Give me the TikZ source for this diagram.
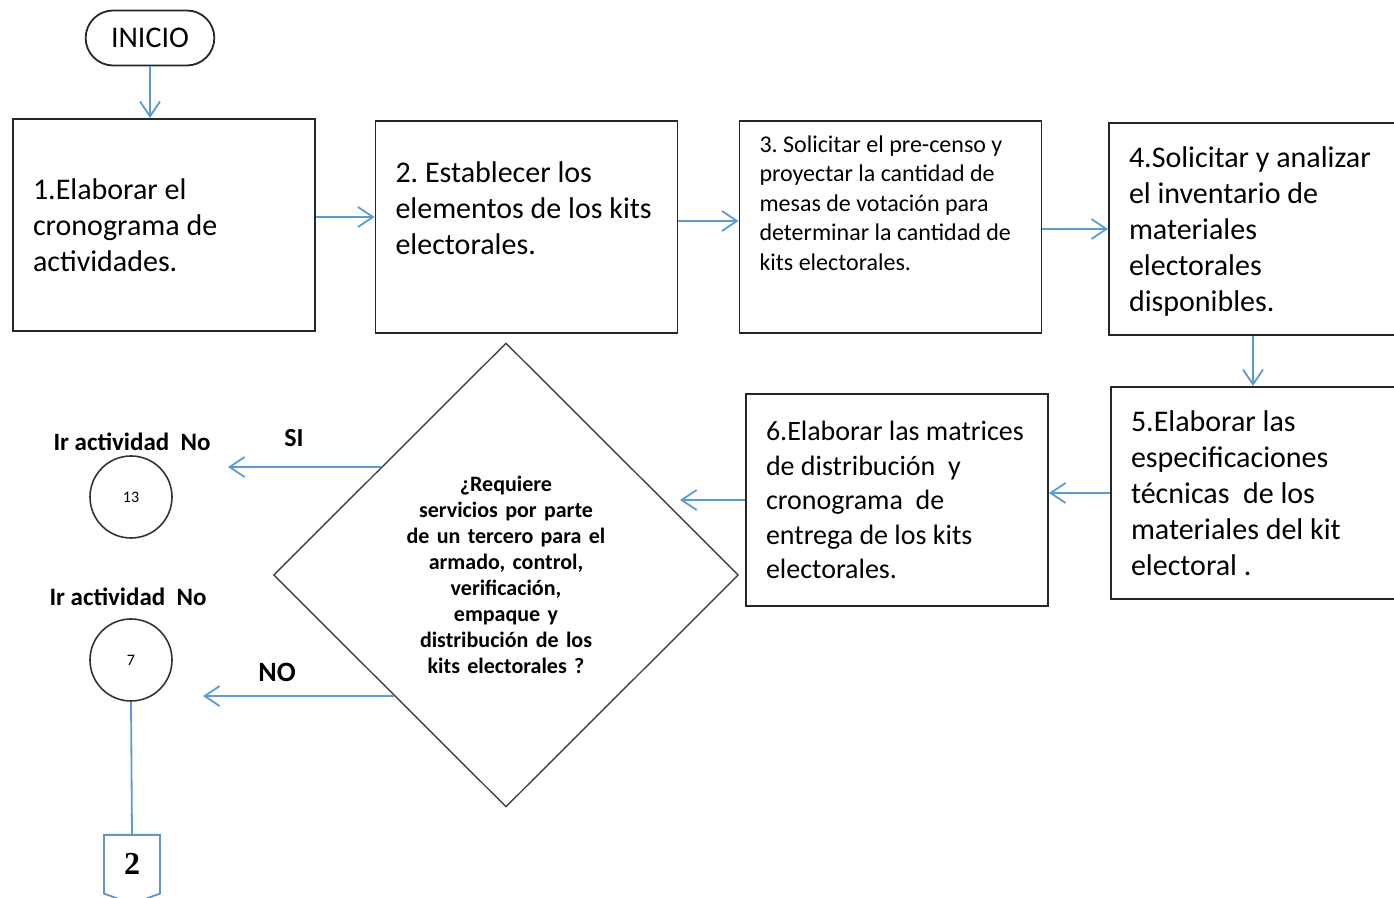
\documentclass[tikz,border=0pt]{standalone}
\usepackage{fontspec}
\setmainfont{Carlito}
\newfontfamily\numfont{Liberation Serif}
\usetikzlibrary{shapes.geometric,shapes.misc,shapes.symbols,arrows.meta,calc}
\definecolor{lineblue}{RGB}{91,155,213}
\frenchspacing

\begin{document}
\begin{tikzpicture}
        [x=0.5pt,y=-0.5pt,
        box/.style={draw=black!85,line width=0.9pt,minimum width=151pt,minimum height=106pt,
          inner xsep=10pt,text width=131pt,align=flush left,font=\fontsize{15}{18}\selectfont},
        arr/.style={lineblue,line width=0.9pt,-{Straight Barb[length=7.5pt,width=10pt,line width=0.9pt]}},
        goto/.style={circle,draw=black!80,line width=0.8pt,minimum size=41pt,inner sep=0pt,font=\fontsize{8}{9}\selectfont},
        tag/.style={font=\bfseries\fontsize{12.5}{14}\selectfont}]
        \useasboundingbox (0,0) rectangle (1394,898);
        \clip (0,0) rectangle (1394,898);

        \node[rounded rectangle,draw=black!85,line width=0.9pt,minimum width=71pt,minimum height=27.5pt,
          font=\fontsize{15}{18}\selectfont] (ini) at (150,38) {INICIO};
        \node[box] (b1) at (164,225) {1.Elaborar el\\cronograma de\\actividades.};
        \node[box,text depth=55pt] (b2) at (526.5,227) {2. Establecer los\\elementos de los kits\\electorales.};
        \node[box,text depth=83pt,font=\fontsize{12}{14.75}\selectfont] (b3) at (890.5,227)
          {3. Solicitar el pre-censo y\\proyectar la cantidad de\\mesas de votación para\\determinar la cantidad de\\kits electorales.};
        \node[box,text depth=72pt] (b4) at (1260,229) {4.Solicitar y analizar\\el inventario de\\materiales\\electorales\\disponibles.};
        \node[box] (b5) at (1262,493) {5.Elaborar las\\especificaciones\\técnicas~ de los\\materiales del kit\\electoral .};
        \node[box,font=\fontsize{14}{17.25}\selectfont] (b6) at (897,500)
          {6.Elaborar las matrices\\de distribución~ y\\cronograma~ de\\entrega de los kits\\electorales.};

        \node[diamond,draw=black!75,line width=0.7pt,minimum width=232.5pt,minimum height=232pt,inner sep=0pt,
          text width=100pt,align=center,font=\bfseries\fontsize{11}{13}\selectfont] (dia) at (506,575)
          {¿Requiere\\servicios por parte\\de un tercero para el\\armado, control,\\verificación,\\empaque y\\distribución de los\\kits electorales ?};

        \node[goto] (c13) at (131,497) {13};
        \node[goto] (c7) at (131,660) {7};
        \node[tag] (t13) at (132,442) {Ir actividad~~No};
        \node[tag] (t7) at (128,597) {Ir actividad~~No};
        \node[tag,font=\bfseries\fontsize{13}{15}\selectfont] (si) at (294,438) {SI};
        \node[tag,font=\bfseries\fontsize{14}{16}\selectfont] (no) at (277,672) {NO};
        \node[signal,signal to=south,signal from=nowhere,signal pointer angle=140,draw=lineblue!80!gray,
          line width=0.9pt,minimum width=28pt,minimum height=32pt,anchor=north,
          font=\numfont\bfseries\fontsize{16}{18}\selectfont] (off) at (132,834) {2};

        % free ends of the connectors
        \coordinate (tip6) at (680,500);
        \coordinate (tipsi) at (228,467);
        \coordinate (tipno) at (203,695);
        \coordinate (dsi) at ($(dia.north)!0.536!(dia.west)$);
        \coordinate (dno) at ($(dia.west)!0.52!(dia.south)$);

        \path[arr] (ini.south) edge (ini.south |- b1.north)
          ([yshift=4pt]b1.east) edge ([yshift=4pt]b1.east -| b2.west)
          ([yshift=3pt]b2.east) edge ([yshift=3pt]b2.east -| b3.west)
          (b3.east |- b4.west) edge (b4.west)
          ([xshift=-3.5pt]b4.south) edge ([xshift=-3.5pt]b4.south |- b5.north)
          (b5.west) edge (b5.west -| b6.east)
          (b6.west) edge (tip6);
        \draw[arr] (dsi) -- (dsi -| tipsi);
        \draw[arr] (dno) -- (dno -| tipno);
        \draw[lineblue,line width=0.9pt] (c7.south) -- (off.north);

    \end{tikzpicture}
\end{document}
